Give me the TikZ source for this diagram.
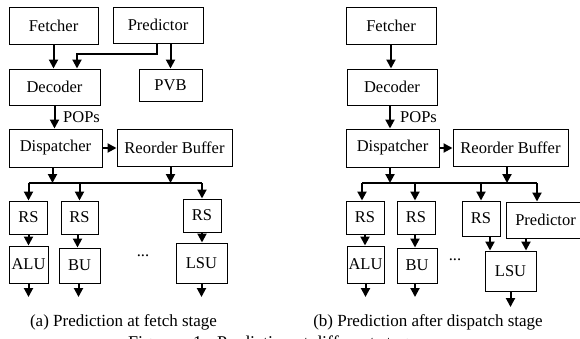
\documentclass[tikz,border=0pt]{standalone}
\usepackage{fontspec}
\setmainfont{Liberation Serif}
\usetikzlibrary{arrows.meta}
\begin{document}
\begin{tikzpicture}[x=1pt,y=-1pt,
  blk/.style={draw,line width=1pt,inner sep=0pt,font=\fontsize{16.5}{18}\selectfont},
  arr/.style={line width=2pt,-{Triangle[width=9pt,length=9pt]}},
  bus/.style={line width=2pt},
  lbl/.style={inner sep=0pt,font=\fontsize{16.5}{18}\selectfont},
  captxt/.style={inner sep=0pt,font=\fontsize{17}{19}\selectfont}]
\useasboundingbox (0,0) rectangle (580,338);
% ---------- (a) ----------
\node[blk,minimum width=89pt,minimum height=37pt] (fetA) at (53.5,25.5) {Fetcher};
\node[blk,minimum width=90pt,minimum height=36pt] (predA) at (158,25) {Predictor};
\node[blk,minimum width=91pt,minimum height=36pt] (decA) at (54.5,87) {Decoder};
\node[blk,minimum width=63pt,minimum height=32pt] (pvbA) at (170.5,85) {PVB};
\node[blk,minimum width=93pt,minimum height=38pt] (dispA) at (55.5,148) {Dispatcher};
\node[blk,minimum width=115pt,minimum height=37pt] (robA) at (174.5,147.5) {Reorder Buffer};
\node[blk,minimum width=38pt,minimum height=33pt] (rs1A) at (28.5,217.5) {RS};
\node[blk,minimum width=37pt,minimum height=33pt] (rs2A) at (79.5,217.5) {RS};
\node[blk,minimum width=38pt,minimum height=33pt] (rs3A) at (202,215.5) {RS};
\node[blk,minimum width=39pt,minimum height=37pt] (aluA) at (28.5,264.5) {ALU};
\node[blk,minimum width=41pt,minimum height=35pt] (buA) at (79.5,265.5) {BU};
\node[blk,minimum width=51pt,minimum height=40pt] (lsuA) at (201.5,263) {LSU};
\node[lbl] (dotsA) at (143,256) {...};
\node[lbl,anchor=west] (popsA) at (63,117) {POPs};
\node[captxt] (capA) at (123.5,322) {(a) Prediction at fetch stage};
\coordinate (busA) at (0,183);
\coordinate (jA) at (77,54);
\coordinate (oA) at (0,297);

\draw[arr] (fetA.south) -- (fetA.south |- decA.north);
\draw[arr] ([xshift=-1pt]predA.south) |- (jA) -- (jA |- decA.north);
\draw[arr] (pvbA.north |- predA.south) -- (pvbA.north);
\draw[arr] (decA.south) -- (decA.south |- dispA.north);
\draw[arr] (dispA.east) -- (robA.west |- dispA.east);
\draw[arr] ([xshift=-3pt]dispA.south) -- ([xshift=-3pt]dispA.south |- busA);
\draw[arr] ([xshift=-4pt]robA.south) -- ([xshift=-4pt]robA.south |- busA);
\draw[bus] (rs1A.north |- busA) -- (rs3A.north |- busA);
\draw[arr] (rs1A.north |- busA) -- (rs1A.north);
\draw[arr] (rs2A.north |- busA) -- (rs2A.north);
\draw[arr] (rs3A.north |- busA) -- (rs3A.north);
\draw[arr] (rs1A.south) -- (rs1A.south |- aluA.north);
\draw[arr] ([xshift=-2pt]rs2A.south) -- ([xshift=-2pt]rs2A.south |- buA.north);
\draw[arr] (rs3A.south) -- (rs3A.south |- lsuA.north);
\draw[arr] (aluA.south) -- (aluA.south |- oA);
\draw[arr] ([xshift=-1pt]buA.south) -- ([xshift=-1pt]buA.south |- oA);
\draw[arr] (lsuA.south) -- (lsuA.south |- oA);

% ---------- (b) ----------
\node[blk,minimum width=90pt,minimum height=37pt] (fetB) at (391,25.5) {Fetcher};
\node[blk,minimum width=90pt,minimum height=36pt] (decB) at (392,87) {Decoder};
\node[blk,minimum width=93pt,minimum height=38pt] (dispB) at (392.5,148) {Dispatcher};
\node[blk,minimum width=115pt,minimum height=37pt] (robB) at (510.5,147.5) {Reorder Buffer};
\node[blk,minimum width=38pt,minimum height=33pt] (rs1B) at (365,217.5) {RS};
\node[blk,minimum width=38pt,minimum height=33pt] (rs2B) at (416,217.5) {RS};
\node[blk,minimum width=38pt,minimum height=35pt] (rs3B) at (481,218.5) {RS};
\node[blk,minimum width=79pt,minimum height=36pt] (predB) at (545.5,220) {Predictor};
\node[blk,minimum width=37pt,minimum height=37pt] (aluB) at (365.5,264.5) {ALU};
\node[blk,minimum width=40pt,minimum height=35pt] (buB) at (417,265.5) {BU};
\node[blk,minimum width=51pt,minimum height=40pt] (lsuB) at (510.5,271) {LSU};
\node[lbl] (dotsB) at (455,260) {...};
\node[lbl,anchor=west] (popsB) at (400,117) {POPs};
\node[captxt] (capB) at (428,322) {(b) Prediction after dispatch stage};
\coordinate (busB) at (0,183);
\coordinate (oB) at (0,297);
\coordinate (oB2) at (0,307);

\draw[arr] (fetB.south) -- (fetB.south |- decB.north);
\draw[arr] ([xshift=-2pt]decB.south) -- ([xshift=-2pt]decB.south |- dispB.north);
\draw[arr] (dispB.east) -- (robB.west |- dispB.east);
\draw[arr] ([xshift=-2.5pt]dispB.south) -- ([xshift=-2.5pt]dispB.south |- busB);
\draw[arr] ([xshift=-3.5pt]robB.south) -- ([xshift=-3.5pt]robB.south |- busB);
\draw[bus] ([xshift=-3pt]rs1B.north |- busB) -- (537,183);
\draw[arr] ([xshift=-3pt]rs1B.north |- busB) -- ([xshift=-3pt]rs1B.north);
\draw[arr] ([xshift=-1pt]rs2B.north |- busB) -- ([xshift=-1pt]rs2B.north);
\draw[arr] (rs3B.north |- busB) -- (rs3B.north);
\draw[arr] (537,183) -- (537,0 |- predB.north);
\draw[arr] (rs1B.south) -- (rs1B.south |- aluB.north);
\draw[arr] ([xshift=-1pt]rs2B.south) -- ([xshift=-1pt]rs2B.south |- buB.north);
\draw[arr] ([xshift=9pt]rs3B.south) -- ([xshift=9pt]rs3B.south |- lsuB.north);
\draw[arr] ([xshift=-19.5pt]predB.south) -- ([xshift=-19.5pt]predB.south |- lsuB.north);
\draw[arr] (aluB.south) -- (aluB.south |- oB);
\draw[arr] ([xshift=-2pt]buB.south) -- ([xshift=-2pt]buB.south |- oB);
\draw[arr] (lsuB.south) -- (lsuB.south |- oB2);

% ---------- figure line (cut off at the bottom, as in the reference) ----------
\node[anchor=base west,inner sep=0pt,font=\fontsize{18}{20}\selectfont] (figcap) at (128,348) {Figure\hspace{18pt}1\hspace{15pt}Prediction at different stages};
\end{tikzpicture}
\end{document}
